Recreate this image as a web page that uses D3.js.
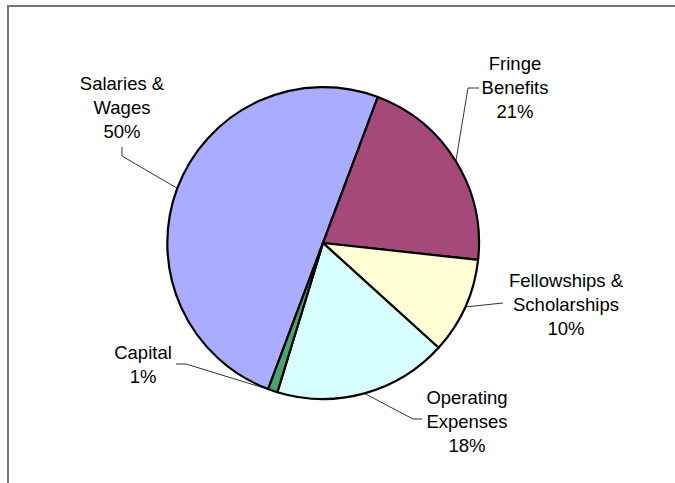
<!DOCTYPE html>
<html lang="en">
<head>
    <meta charset="UTF-8" />
    <title>Expenditure pie</title>
    <script src="https://d3js.org/d3.v7.js"></script>
    <style>
        body { margin: 0; background: #fff; }
        text { font-family: Arial, "Liberation Sans", sans-serif; fill: #000; }
    </style>
</head>
<body>
    <script>
        var w = 675;
        var h = 483;

        // data
        var categories = ["Salaries & Wages", "Fringe Benefits", "Fellowships & Scholarships", "Operating Expenses", "Capital"];
        var values = [50, 21, 10, 18, 1];
        var labelLines = [["Salaries &", "Wages"], ["Fringe", "Benefits"], ["Fellowships &", "Scholarships"], ["Operating", "Expenses"], ["Capital"]];
        var colors = ["#AAADFF", "#A5497B", "#FFFED5", "#D8FFFF", "#4CA474"];

        // label layout (centre of first text line, and where the leader starts)
        var labelPos = [[122, 83], [515, 63], [566, 280], [467, 397], [143, 352]];
        var leaderStart = [[122, 147, 122, 156], [479, 88, 468, 88], [503, 303, 503, 303], [422, 419, 413, 419], [176, 364, 186, 364]];

        var cx = 323, cy = 243, r = 156;
        var lineH = 24;

        var svg = d3.select("body")
            .append("svg")
            .attr("width", w)
            .attr("height", h);

        // outer frame
        svg.append("rect")
            .attr("x", 8)
            .attr("y", 6)
            .attr("width", 720)
            .attr("height", 520)
            .attr("fill", "none")
            .attr("stroke", "#777")
            .attr("stroke-width", 2);

        var start = 200.6 * Math.PI / 180;
        var pie = d3.pie()
            .sort(null)
            .startAngle(start)
            .endAngle(start + 2 * Math.PI);

        var arcs = pie(values);

        var arc = d3.arc().innerRadius(0).outerRadius(r);
        var edge = d3.arc().innerRadius(r).outerRadius(r);

        var g = svg.append("g").attr("transform", "translate(" + cx + "," + cy + ")");

        g.selectAll("path")
            .data(arcs)
            .enter()
            .append("path")
            .attr("d", arc)
            .attr("fill", function (d, i) { return colors[i]; })
            .attr("stroke", "#000")
            .attr("stroke-width", 2.2)
            .attr("stroke-linejoin", "round");

        // leader lines
        arcs.forEach(function (d, i) {
            var e = edge.centroid(d);
            var s = leaderStart[i];
            svg.append("polyline")
                .attr("points", [[s[0], s[1]], [s[2], s[3]], [cx + e[0], cy + e[1]]].map(function (p) { return p.join(","); }).join(" "))
                .attr("fill", "none")
                .attr("stroke", "#000")
                .attr("stroke-width", 0.8);
        });

        // labels
        arcs.forEach(function (d, i) {
            var lines = labelLines[i].concat([Math.round(values[i]) + "%"]);
            var t = svg.append("text")
                .attr("text-anchor", "middle")
                .attr("font-size", 18.5);
            lines.forEach(function (l, k) {
                t.append("tspan")
                    .attr("x", labelPos[i][0])
                    .attr("y", labelPos[i][1] + k * lineH + 6.5)
                    .text(l);
            });
        });
    </script>
</body>
</html>
